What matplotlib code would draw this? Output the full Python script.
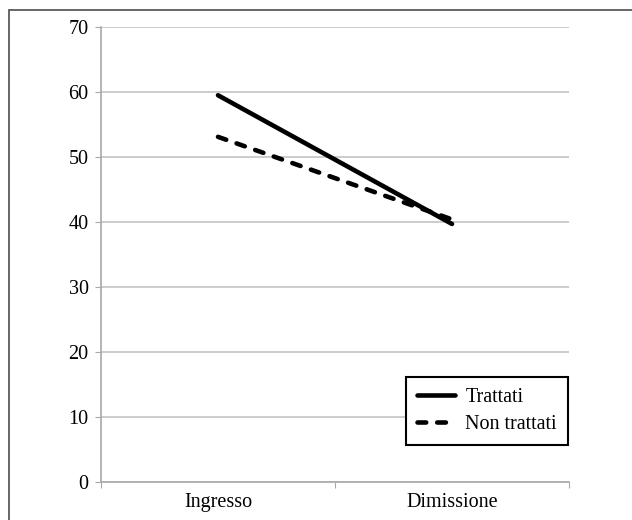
import matplotlib.pyplot as plt
from matplotlib.patches import Rectangle

categories = ["Ingresso", "Dimissione"]
trattati = [59.5, 39.7]
non_trattati = [53.1, 40.4]
yticks = [0, 10, 20, 30, 40, 50, 60, 70]

plt.rcParams["font.family"] = ["Liberation Serif", "DejaVu Serif"]
FS = 14.5

fig = plt.figure(figsize=(6.32, 5.2), dpi=100)
ax = fig.add_axes([101 / 632, 38 / 520, 468 / 632, 455 / 520])

x = list(range(len(categories)))
ax.plot(x, trattati, color="black", lw=3.3, solid_capstyle="round", label="Trattati")
ax.plot(x, non_trattati, color="black", lw=3.3, linestyle=(0, (1.9, 2.4)),
        dash_capstyle="round", label="Non trattati")

ax.set_xlim(-0.5, len(categories) - 0.5)
ax.set_ylim(0, 70)
ax.set_yticks(yticks)
ax.grid(axis="y", color="#c4c4c4", lw=1.2)
ax.set_axisbelow(True)

# category labels between boundary ticks, Excel style
ax.set_xticks([i - 0.5 for i in range(len(categories) + 1)])
ax.set_xticklabels([])
ax.set_xticks(x, minor=True)
ax.set_xticklabels(categories, minor=True, fontsize=FS)
ax.tick_params(axis="x", which="minor", length=0, pad=8)
ax.tick_params(axis="x", which="major", length=4, color="#a8a8a8", direction="out")
ax.tick_params(axis="y", length=4, color="#a8a8a8", labelsize=FS, pad=5)

for side in ["top", "right"]:
    ax.spines[side].set_visible(False)
for side in ["left", "bottom"]:
    ax.spines[side].set_color("#a8a8a8")
    ax.spines[side].set_linewidth(1.2)

leg = ax.legend(loc="lower right", bbox_to_anchor=(0.998, 0.081), borderaxespad=0,
                fontsize=FS, frameon=True, fancybox=False, edgecolor="black",
                handlelength=1.9, handletextpad=0.5, borderpad=0.55,
                labelspacing=0.4)
leg.get_frame().set_linewidth(1.5)
leg.get_frame().set_alpha(1)

# outer chart border, cropped at right and bottom
fig.patches.append(Rectangle((8.5 / 632, -0.05), 1.1, (520 - 9.5) / 520 + 0.05,
                             transform=fig.transFigure, fill=False,
                             edgecolor="#5a5a5a", lw=1.3))

fig.savefig("out.png", dpi=100)
